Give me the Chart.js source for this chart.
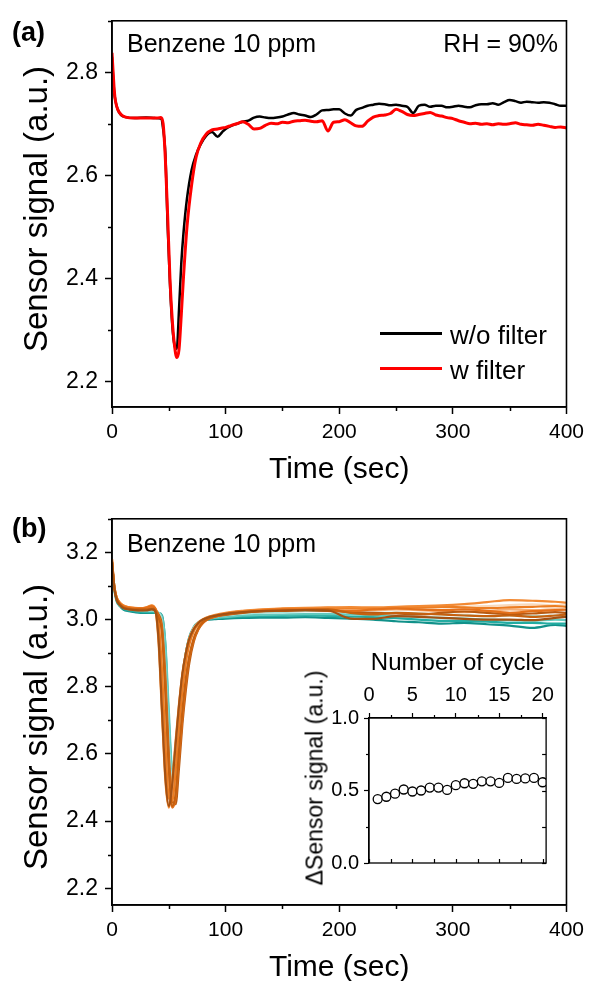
<!DOCTYPE html>
<html>
<head>
<meta charset="utf-8">
<script src="https://cdn.jsdelivr.net/npm/chart.js@4.4.1/dist/chart.umd.min.js"></script>
<style>
  html, body { margin:0; padding:0; background:#fff; overflow:hidden; }
  body { width:590px; height:981px; position:relative; font-family:"Liberation Sans", Arial, sans-serif; color:#000; }
  canvas { position:absolute; }
  .t { position:absolute; white-space:nowrap; line-height:1; }
  .vt { transform: translate(-50%,-50%) rotate(-90deg); }
  .leg { position:absolute; height:3px; }
</style>
</head>
<body>
<canvas id="cA" width="590" height="490" style="left:0;top:0"></canvas>
<canvas id="cB" width="590" height="490" style="left:0;top:498px"></canvas>
<canvas id="cI" width="270" height="240" style="left:290px;top:640px"></canvas>

<div class="t" style="left:12px;top:19px;font-size:27px;font-weight:bold">(a)</div>
<div class="t" style="left:127px;top:31px;font-size:25px">Benzene 10 ppm</div>
<div class="t" style="right:32px;top:31px;font-size:25px">RH = 90%</div>
<div class="leg" style="left:380px;top:332px;width:62px;background:#000"></div>
<div class="t" style="left:450px;top:322px;font-size:26px">w/o filter</div>
<div class="leg" style="left:380px;top:367px;width:62px;background:#ff0000"></div>
<div class="t" style="left:450px;top:357px;font-size:26px">w filter</div>
<div class="t vt" style="left:35px;top:209px;font-size:33px">Sensor signal (a.u.)</div>

<div class="t" style="left:12px;top:515px;font-size:27px;font-weight:bold">(b)</div>
<div class="t" style="left:127px;top:531px;font-size:25px">Benzene 10 ppm</div>
<div class="t vt" style="left:35px;top:727px;font-size:33px">Sensor signal (a.u.)</div>
<div class="t vt" style="left:315px;top:778px;font-size:23px">ΔSensor signal (a.u.)</div>

<script>
// ---------------- Panel (a) data ----------------
const timeA = [0,1,2,3,5,8,12,20,30,38,43,45,47,49,51,53,55,57,59,61,63,66,70,74,78,83,88,93,97,
  100,105,110,115,120,125,130,135,140,145,150,155,160,165,170,175,180,185,190,195,200,
  205,210,215,220,225,230,235,240,245,250,255,260,265,270,275,280,285,290,295,300,
  305,310,315,320,325,330,335,340,345,350,355,360,365,370,375,380,385,390,395,400];
const withoutFilter = [2.830,2.790,2.760,2.745,2.728,2.717,2.713,2.711,2.712,2.711,2.710,2.690,2.640,2.500,2.390,2.310,2.270,2.263,2.340,2.430,2.490,2.555,2.610,2.640,2.660,2.677,2.684,2.675,2.684,
  2.690,2.696,2.700,2.704,2.706,2.712,2.714,2.712,2.711,2.712,2.714,2.718,2.721,2.718,2.716,2.713,2.718,2.726,2.727,2.728,2.728,
  2.720,2.716,2.727,2.731,2.735,2.737,2.739,2.738,2.736,2.737,2.735,2.733,2.721,2.735,2.737,2.733,2.735,2.735,2.732,2.733,
  2.735,2.733,2.732,2.736,2.738,2.738,2.740,2.737,2.742,2.746,2.744,2.741,2.743,2.742,2.741,2.742,2.741,2.738,2.735,2.735];
const withFilter = [2.838,2.800,2.765,2.745,2.728,2.718,2.713,2.711,2.711,2.711,2.712,2.700,2.630,2.520,2.400,2.320,2.270,2.246,2.262,2.330,2.405,2.500,2.580,2.635,2.662,2.680,2.688,2.690,2.692,
  2.693,2.697,2.700,2.704,2.699,2.690,2.691,2.697,2.701,2.700,2.703,2.702,2.705,2.706,2.707,2.705,2.704,2.706,2.686,2.703,2.704,
  2.708,2.702,2.696,2.695,2.705,2.713,2.716,2.717,2.720,2.728,2.724,2.718,2.716,2.718,2.720,2.722,2.717,2.715,2.712,2.710,
  2.706,2.703,2.700,2.701,2.699,2.700,2.698,2.700,2.699,2.700,2.702,2.699,2.698,2.697,2.699,2.697,2.695,2.693,2.694,2.692];
const seriesNamesA = ['w/o filter','w filter'];
const yTicksA = [2.2,2.4,2.6,2.8];
const yMinorA = [2.3,2.5,2.7,2.9];
const xTicks = [0,100,200,300,400];
const xMinor = [50,150,250,350];

// ---------------- Panel (b) data (one array per cycle) ----------------
const timeB = [0,2,4,7,10,15,20,25,30,35,38,41,44,47,50,53,56,59,62,65,68,72,76,80,85,90,
  100,115,130,150,170,190,210,230,250,270,290,310,330,350,370,390,400];
const cycleDarkTeal = [3.17,3.10,3.06,3.04,3.03,3.025,3.022,3.02,3.02,3.02,3.02,3.019,3.012,2.92,2.70,2.55,2.58,2.72,2.83,2.90,2.945,2.975,2.99,2.997,3.0,3.001,
  3.003,3.005,3.006,3.006,3.007,3.005,3.003,3.0,2.995,2.992,2.988,2.99,2.986,2.982,2.975,2.984,2.981];
const cycleTeal = [3.17,3.09,3.055,3.04,3.032,3.027,3.025,3.022,3.022,3.021,3.02,3.018,3.005,2.90,2.68,2.53,2.57,2.72,2.83,2.90,2.948,2.978,2.992,2.998,3.002,3.004,
  3.006,3.009,3.01,3.011,3.012,3.011,3.009,3.007,3.004,3.0,2.996,2.996,2.994,2.99,2.99,2.988,2.988];
const cycleLightTeal = [3.16,3.09,3.06,3.042,3.035,3.03,3.028,3.026,3.025,3.025,3.024,3.02,3.008,2.93,2.73,2.56,2.57,2.70,2.81,2.885,2.938,2.972,2.988,2.996,3.002,3.005,
  3.008,3.012,3.014,3.015,3.016,3.016,3.015,3.013,3.01,3.008,3.005,3.003,3.0,2.998,2.997,3.0,2.998];
const cyclePaleTeal = [3.16,3.095,3.062,3.045,3.037,3.032,3.03,3.028,3.028,3.027,3.026,3.02,2.99,2.85,2.64,2.52,2.55,2.68,2.80,2.885,2.94,2.972,2.988,2.997,3.004,3.008,
  3.013,3.018,3.02,3.022,3.025,3.025,3.023,3.02,3.02,3.018,3.015,3.013,3.01,3.012,3.01,3.012,3.012];
const cyclePalePeach = [3.17,3.10,3.065,3.048,3.04,3.035,3.033,3.032,3.032,3.034,3.03,3.0,2.86,2.66,2.50,2.46,2.56,2.70,2.81,2.89,2.94,2.975,2.992,3.0,3.006,3.01,
  3.016,3.022,3.025,3.027,3.03,3.03,3.03,3.031,3.033,3.033,3.036,3.038,3.04,3.043,3.045,3.042,3.042];
const cyclePeach = [3.17,3.10,3.065,3.05,3.042,3.036,3.034,3.033,3.034,3.038,3.032,2.95,2.74,2.54,2.445,2.50,2.62,2.74,2.835,2.90,2.945,2.975,2.992,3.001,3.008,3.012,
  3.018,3.024,3.027,3.03,3.032,3.032,3.03,3.028,3.03,3.028,3.025,3.022,3.025,3.03,3.028,3.03,3.028];
const cycleRust = [3.17,3.095,3.06,3.044,3.035,3.031,3.029,3.028,3.029,3.031,3.027,3.015,2.98,2.83,2.60,2.46,2.45,2.56,2.69,2.79,2.87,2.935,2.97,2.99,3.002,3.008,
  3.014,3.02,3.024,3.026,3.028,3.026,3.022,3.02,3.018,3.015,3.02,3.024,3.02,3.016,3.018,3.022,3.02];
const cycleAmber = [3.175,3.10,3.066,3.049,3.041,3.036,3.034,3.034,3.036,3.041,3.033,2.99,2.85,2.63,2.47,2.46,2.55,2.68,2.79,2.87,2.925,2.965,2.985,2.996,3.005,3.01,
  3.018,3.025,3.029,3.032,3.034,3.035,3.034,3.032,3.035,3.036,3.038,3.036,3.034,3.036,3.038,3.04,3.038];
const cycleLightOrange = [3.18,3.10,3.068,3.05,3.042,3.037,3.035,3.034,3.036,3.042,3.03,2.93,2.72,2.52,2.44,2.52,2.64,2.75,2.84,2.90,2.942,2.972,2.99,3.0,3.008,3.013,
  3.02,3.026,3.03,3.033,3.035,3.036,3.037,3.036,3.038,3.04,3.042,3.046,3.052,3.058,3.056,3.053,3.05];
const cycleOrange = [3.18,3.10,3.066,3.048,3.04,3.035,3.033,3.033,3.035,3.04,3.034,3.01,2.97,2.80,2.57,2.44,2.47,2.59,2.71,2.81,2.885,2.94,2.972,2.99,3.002,3.008,
  3.016,3.023,3.027,3.03,3.03,3.028,3.025,3.03,3.033,3.03,3.028,3.03,3.026,3.02,3.025,3.028,3.03];
const cycleDarkOrange = [3.17,3.095,3.062,3.045,3.036,3.032,3.03,3.03,3.03,3.033,3.028,3.005,2.96,2.78,2.56,2.445,2.48,2.61,2.73,2.825,2.89,2.945,2.975,2.992,3.003,3.009,
  3.015,3.021,3.025,3.027,3.029,3.03,3.02,3.015,3.02,3.018,3.015,3.012,3.01,3.012,3.008,3.012,3.015];
const cycleBrown = [3.17,3.095,3.06,3.043,3.034,3.03,3.028,3.027,3.027,3.03,3.025,2.94,2.73,2.53,2.445,2.51,2.63,2.745,2.84,2.90,2.942,2.972,2.99,3.0,3.007,3.011,
  3.017,3.022,3.025,3.027,3.028,3.027,3.003,3.002,3.01,3.008,3.005,3.002,3.0,3.0,2.998,3.005,3.008];
// first listed is drawn on top
const cyclesB = [cycleBrown,cycleDarkOrange,cycleOrange,cycleLightOrange,cycleAmber,cycleRust,
  cyclePeach,cyclePalePeach,cyclePaleTeal,cycleLightTeal,cycleTeal,cycleDarkTeal];
const yTicksB = [2.2,2.4,2.6,2.8,3.0,3.2];
const yMinorB = [2.3,2.5,2.7,2.9,3.1,3.3];

// ---------------- Inset data ----------------
const cycleNumber = [1,2,3,4,5,6,7,8,9,10,11,12,13,14,15,16,17,18,19,20];
const deltaSignal = [0.441,0.457,0.478,0.507,0.493,0.500,0.520,0.520,0.504,0.537,0.550,0.546,0.563,0.563,0.552,0.587,0.580,0.583,0.587,0.557];
const insetXTicks = [0,5,10,15,20];
const insetXMinor = [2.5,7.5,12.5,17.5];
const insetYTicks = [0,0.5,1.0];
const insetYMinor = [0.25,0.75];

// ---------------- styling ----------------
const FONT = '"Liberation Sans", Arial, sans-serif';
Chart.defaults.font.family = FONT;
Chart.defaults.color = '#000';
const colorsB = ['#a45113','#c7610f','#e4701a','#f28a34','#ec7d22','#b85a12',
  '#f5ae76','#f9d9bb','#abe1d9','#62c9be','#23aca2','#11918a'];

const framePlugin = {
  id: 'frame',
  afterDatasetsDraw(chart, args, opts) {
    const {ctx, chartArea: a, scales} = chart;
    ctx.save();
    ctx.strokeStyle = '#000';
    ctx.lineWidth = opts.lw;
    ctx.strokeRect(a.left, a.top, a.right - a.left, a.bottom - a.top);
    ctx.lineWidth = opts.tw;
    (opts.marks || []).forEach(m => {
      const s = scales[m.axis];
      m.values.forEach(v => {
        const p = Math.round(s.getPixelForValue(v)) + 0.5;
        ctx.beginPath();
        if (m.side === 'left') { ctx.moveTo(a.left, p); ctx.lineTo(a.left - m.len, p); }
        else if (m.side === 'right') { ctx.moveTo(a.right, p); ctx.lineTo(a.right + m.len, p); }
        else if (m.side === 'bottom') { ctx.moveTo(p, a.bottom); ctx.lineTo(p, a.bottom + m.len); }
        else { ctx.moveTo(p, a.top); ctx.lineTo(p, a.top - m.len); }
        ctx.stroke();
      });
    });
    ctx.restore();
  }
};

function mainOptions(yMin, yMax, yTicks, yMinor) {
  return {
    responsive: false, animation: false, devicePixelRatio: 1,
    layout: { padding: { left: 0, right: 22, top: 14, bottom: 0 } },
    plugins: {
      legend: { display: false }, tooltip: { enabled: false },
      frame: { lw: 1.6, tw: 1.5, marks: [
        { axis: 'y', side: 'left', len: 4, values: yMinor },
        { axis: 'x', side: 'bottom', len: 4, values: xMinor }
      ] }
    },
    elements: { point: { radius: 0 }, line: { borderJoinStyle: 'round' } },
    scales: {
      x: {
        type: 'linear', min: 0, max: 400,
        afterBuildTicks: s => { s.ticks = xTicks.map(v => ({ value: v })); },
        afterFit: s => { s.height = 83; },
        grid: { drawOnChartArea: false, tickLength: 7, tickWidth: 1.5, tickColor: '#000' },
        border: { display: true, color: '#000', width: 1.6 },
        ticks: { font: { size: 21 }, padding: 6, maxRotation: 0, autoSkip: false, color: '#000',
                 callback: v => String(v) },
        title: { display: true, text: 'Time (sec)', font: { size: 30, lineHeight: 1 }, padding: { top: 0, bottom: 5 }, color: '#000' }
      },
      y: {
        type: 'linear', min: yMin, max: yMax,
        afterBuildTicks: s => { s.ticks = yTicks.map(v => ({ value: v })); },
        afterFit: s => { s.width = 112; },
        grid: { drawOnChartArea: false, tickLength: 7, tickWidth: 1.5, tickColor: '#000' },
        border: { display: true, color: '#000', width: 1.6 },
        ticks: { font: { size: 23 }, padding: 7, autoSkip: false, color: '#000',
                 callback: v => Number(v).toFixed(1) },
        title: { display: false }
      }
    }
  };
}

// Panel (a) — red listed first so it is drawn on top, as in the reference
new Chart(document.getElementById('cA'), {
  type: 'line',
  data: {
    labels: timeA,
    datasets: [
      { label: seriesNamesA[1], data: timeA.map((t, i) => ({ x: t, y: withFilter[i] })), borderColor: '#ff0000', borderWidth: 3, fill: false, cubicInterpolationMode: 'monotone' },
      { label: seriesNamesA[0], data: timeA.map((t, i) => ({ x: t, y: withoutFilter[i] })), borderColor: '#000000', borderWidth: 2.5, fill: false, cubicInterpolationMode: 'monotone' }
    ]
  },
  options: mainOptions(2.15, 2.9, yTicksA, yMinorA),
  plugins: [framePlugin]
});

// Panel (b)
new Chart(document.getElementById('cB'), {
  type: 'line',
  data: {
    labels: timeB,
    datasets: cyclesB.map((vals, k) => ({
      label: 'cycle ' + (k + 1),
      data: timeB.map((t, i) => ({ x: t, y: vals[i] })),
      borderColor: colorsB[k], borderWidth: 2.2, fill: false,
      cubicInterpolationMode: 'monotone'
    }))
  },
  options: mainOptions(2.15, 3.3, yTicksB, yMinorB),
  plugins: [framePlugin]
});

// Inset
new Chart(document.getElementById('cI'), {
  type: 'scatter',
  data: {
    datasets: [{
      label: 'ΔSensor signal',
      data: cycleNumber.map((c, i) => ({ x: c, y: deltaSignal[i] })),
      pointRadius: 4.5, pointBorderWidth: 1.3, pointBackgroundColor: '#ffffff', pointBorderColor: '#000000', showLine: false
    }]
  },
  options: {
    responsive: false, animation: false, devicePixelRatio: 1,
    layout: { padding: { left: 0, right: 12, top: 0, bottom: 8 } },
    plugins: {
      legend: { display: false }, tooltip: { enabled: false },
      frame: { lw: 1.3, tw: 1.2, marks: [
        { axis: 'x', side: 'top', len: 3, values: insetXMinor },
        { axis: 'x', side: 'bottom', len: -4, values: insetXTicks.concat(insetXMinor) },
        { axis: 'y', side: 'left', len: 3, values: insetYMinor },
        { axis: 'y', side: 'right', len: -4, values: insetYTicks.concat(insetYMinor) }
      ] }
    },
    scales: {
      x: {
        type: 'linear', position: 'top', min: 0, max: 20.4,
        afterBuildTicks: s => { s.ticks = insetXTicks.map(v => ({ value: v })); },
        afterFit: s => { s.height = 78; },
        grid: { drawOnChartArea: false, tickLength: 5, tickWidth: 1.2, tickColor: '#000' },
        border: { display: true, color: '#000', width: 1.3 },
        ticks: { font: { size: 20 }, padding: 6, maxRotation: 0, autoSkip: false, color: '#000', callback: v => String(v) },
        title: { display: true, text: 'Number of cycle', font: { size: 24, lineHeight: 1 }, padding: { top: 11, bottom: 0 }, color: '#000' }
      },
      y: {
        type: 'linear', min: 0, max: 1.0,
        afterBuildTicks: s => { s.ticks = insetYTicks.map(v => ({ value: v })); },
        afterFit: s => { s.width = 79; },
        grid: { drawOnChartArea: false, tickLength: 5, tickWidth: 1.2, tickColor: '#000' },
        border: { display: true, color: '#000', width: 1.3 },
        ticks: { font: { size: 20 }, padding: 5, autoSkip: false, color: '#000', callback: v => Number(v).toFixed(1) },
        title: { display: false }
      }
    }
  },
  plugins: [framePlugin]
});
</script>
</body>
</html>
